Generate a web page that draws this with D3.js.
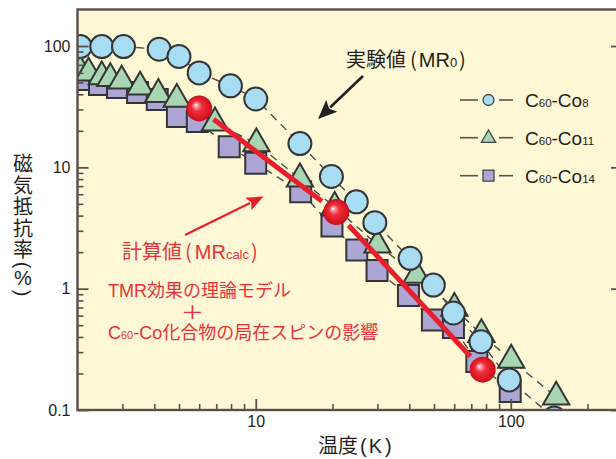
<!DOCTYPE html>
<html><head><meta charset="utf-8">
<script src="https://cdn.jsdelivr.net/npm/d3@7/dist/d3.min.js"></script>
<style>
html,body{margin:0;padding:0;background:#fff;overflow:hidden}
svg{display:block}
text{font-family:"Liberation Sans",Arial,"Noto Sans CJK JP",sans-serif}
</style></head><body>
<svg id="chart" width="616" height="459"></svg>
<script>
// ---- data (temperature K, magnetoresistance %) ----
const co8T   = [2.05, 2.49, 3.03, 4.18, 5.0, 6.0, 7.96, 10, 14.9, 19.8, 24.8, 29.3, 40.3, 49.7, 59.6, 76.4, 98.6, 148];
const co8MR  = [99, 99, 99, 94, 82, 60, 47, 36.6, 15.7, 8.4, 5.2, 3.5, 1.78, 1.07, 0.63, 0.365, 0.177, 0.086];
const co11T  = [2.05, 2.21, 2.49, 2.69, 2.98, 3.52, 4.15, 4.9, 6.92, 10.06, 14.9, 20.4, 30, 42.7, 60.1, 76.7, 100.4, 150.7];
const co11MR = [62, 60, 56, 54, 51.5, 46, 40, 36.4, 23.3, 15.7, 8.05, 4.7, 2.3, 1.29, 0.69, 0.42, 0.258, 0.128];
const co14T  = [2.04, 2.44, 2.87, 3.44, 4.11, 4.93, 5.9, 7.87, 10, 15, 19.9, 24.9, 29.9, 39.7, 49.3, 59.6, 73.6, 99.5];
const co14MR = [53, 48.2, 45.5, 41.4, 36.2, 26.2, 23.9, 14.8, 10.8, 6.3, 3.28, 2.08, 1.41, 0.877, 0.551, 0.478, 0.251, 0.142];
const calcT  = [6, 20.7, 77.6];
const calcMR = [30.6, 4.28, 0.215];

const yTickValues = [0.1, 1, 10, 100];
const yTickLabels = ["0.1", "1", "10", "100"];
const xTickValues = [10, 100];
const xTickLabels = ["10", "100"];
// legend labels: [main, sub, main, sub]
const legendLabels = [["C","60","-Co","8"],["C","60","-Co","11"],["C","60","-Co","14"]];
const yTitleChars = ["磁","気","抵","抗","率"];
const xTitle = ["温度","(","K",")"];

// ---- setup ----
const svg = d3.select("#chart");
const x = d3.scaleLog().domain([2, 273]).range([77.5, 622]);
const y = d3.scaleLog().domain([0.1, 200]).range([410, 9.5]);
const X0 = 77.5, X1 = 622, Y0 = 9.5, Y1 = 410;
const dark = "#231f20", red = "#e8323a", axisColor = "#5b4f4a";
const cjk = '"Noto Sans CJK JP",sans-serif';

const defs = svg.append("defs");
defs.append("clipPath").attr("id","plotClip").append("rect")
  .attr("x",X0).attr("y",Y0).attr("width",X1-X0).attr("height",Y1-Y0);
const grad = defs.append("radialGradient").attr("id","ball")
  .attr("cx","50%").attr("cy","50%").attr("r","50%").attr("fx","36%").attr("fy","36%");
[[0,"#ffffff"],[0.14,"#f9a0a6"],[0.4,"#ee2f3c"],[0.8,"#dc1724"],[1,"#c40f1c"]]
  .forEach(([o,c]) => grad.append("stop").attr("offset",o).attr("stop-color",c));

// background
svg.append("rect").attr("x",X0).attr("y",Y0).attr("width",X1-X0).attr("height",Y1-Y0)
  .attr("fill","#fef8d6");

const plot = svg.append("g").attr("clip-path","url(#plotClip)");

const series = [
  {T: co14T, MR: co14MR, type: "square",   fill: "#aba6d4"},
  {T: co11T, MR: co11MR, type: "triangle", fill: "#a9d6b2"},
  {T: co8T,  MR: co8MR,  type: "circle",   fill: "#a7dcf3"}
];
const symGen = {
  square: d3.symbol().type(d3.symbolSquare).size(441),
  triangle: d3.symbol().type(d3.symbolTriangle).size(300),
  squareS: d3.symbol().type(d3.symbolSquare).size(121),
  triangleS: d3.symbol().type(d3.symbolTriangle).size(88)
};

// dashed connecting lines
const line = d3.line().x(d => x(d[0])).y(d => y(d[1]));
series.forEach(s => {
  plot.append("path").datum(d3.zip(s.T, s.MR)).attr("d", line)
    .attr("fill","none").attr("stroke","#4a4a4a").attr("stroke-width",1.4)
    .attr("stroke-dasharray","8,6");
});
// markers
series.forEach(s => {
  const pts = d3.zip(s.T, s.MR);
  const g = plot.append("g");
  if (s.type === "circle") {
    g.selectAll("circle").data(pts).join("circle")
      .attr("cx", d => x(d[0])).attr("cy", d => y(d[1])).attr("r", 11.5)
      .attr("fill", s.fill).attr("stroke","#353535").attr("stroke-width",2);
  } else {
    g.selectAll("path").data(pts).join("path")
      .attr("transform", d => `translate(${x(d[0])},${y(d[1])})`)
      .attr("d", symGen[s.type])
      .attr("fill", s.fill).attr("stroke","#353535").attr("stroke-width",2)
      .attr("stroke-linejoin","miter");
  }
});

// calculated MR: red line + balls
const calc = d3.zip(calcT, calcMR);
for (let i = 0; i < calc.length - 1; i++) {
  const ax = x(calc[i][0]), ay = y(calc[i][1]), bx = x(calc[i+1][0]), by = y(calc[i+1][1]);
  const L = Math.hypot(bx-ax, by-ay), ux = (bx-ax)/L, uy = (by-ay)/L, sh = 18;
  plot.append("line").attr("x1", ax+ux*sh).attr("y1", ay+uy*sh)
    .attr("x2", bx-ux*sh).attr("y2", by-uy*sh)
    .attr("stroke", "#e8202e").attr("stroke-width", 5).attr("stroke-linecap","butt");
}
plot.selectAll("circle.ball").data(calc).join("circle").attr("class","ball")
  .attr("cx", d => x(d[0])).attr("cy", d => y(d[1])).attr("r", 13)
  .attr("fill","url(#ball)");

// ---- axes ----
function styleAxis(g, w) {
  g.select(".domain").remove();
  g.selectAll(".tick line").attr("stroke", axisColor).attr("stroke-width", w);
  g.selectAll(".tick text").attr("fill", dark).attr("font-size", 16)
    .attr("font-family", '"Liberation Sans",Arial,sans-serif');
}
const xMinor = x.ticks().filter(v => !xTickValues.includes(v) && v > 2.01);
const yMinor = y.ticks().filter(v => !yTickValues.includes(v) && v < 199);
svg.append("g").attr("transform",`translate(0,${Y1})`)
  .call(d3.axisBottom(x).tickValues(xMinor).tickFormat("").tickSize(-6)).call(g => styleAxis(g,1.6));
svg.append("g").attr("transform",`translate(0,${Y1})`)
  .call(d3.axisBottom(x).tickValues(xTickValues).tickFormat((d,i) => xTickLabels[i]).tickSize(-11).tickPadding(6))
  .call(g => styleAxis(g,1.8));
svg.append("g").attr("transform",`translate(${X0},0)`)
  .call(d3.axisLeft(y).tickValues(yMinor).tickFormat("").tickSize(-6)).call(g => styleAxis(g,1.6));
svg.append("g").attr("transform",`translate(${X0},0)`)
  .call(d3.axisLeft(y).tickValues(yTickValues).tickFormat((d,i) => yTickLabels[i]).tickSize(-11).tickPadding(7))
  .call(g => styleAxis(g,1.8));
svg.append("g").attr("transform",`translate(${X1},0)`)
  .call(d3.axisRight(y).tickValues(yTickValues).tickFormat("").tickSize(-11)).call(g => styleAxis(g,1.8));
svg.append("g").attr("transform",`translate(${X1},0)`)
  .call(d3.axisRight(y).tickValues(yMinor).tickFormat("").tickSize(-6)).call(g => styleAxis(g,1.4));
// frame
svg.append("rect").attr("x",X0).attr("y",Y0).attr("width",X1-X0).attr("height",Y1-Y0)
  .attr("fill","none").attr("stroke",axisColor).attr("stroke-width",2.4);

// axis titles
const xt = svg.append("text").attr("x",318).attr("y",453).attr("font-size",20).attr("fill",dark);
xt.append("tspan").text(xTitle[0]);
xt.append("tspan").attr("dx",2).text(xTitle[1]);
xt.append("tspan").attr("dx",2).text(xTitle[2]);
xt.append("tspan").attr("dx",3).text(xTitle[3]);

const yCenters = [164, 185.5, 207, 228.5, 250];
yTitleChars.forEach((c,i) => {
  svg.append("text").attr("x",23).attr("y",yCenters[i]).attr("text-anchor","middle")
    .attr("dominant-baseline","central").attr("font-size",20).attr("fill",dark).text(c);
});
svg.append("text").attr("x",23).attr("y",265).attr("text-anchor","middle")
  .attr("dominant-baseline","central").attr("font-size",20).attr("fill",dark)
  .attr("transform","rotate(90,23,265)").text("(");
svg.append("text").attr("x",23).attr("y",278).attr("text-anchor","middle")
  .attr("dominant-baseline","central").attr("font-size",20).attr("fill",dark).text("%");
svg.append("text").attr("x",23).attr("y",293).attr("text-anchor","middle")
  .attr("dominant-baseline","central").attr("font-size",20).attr("fill",dark)
  .attr("transform","rotate(90,23,293)").text(")");

// ---- legend ----
const legY = [100, 137.7, 175.7];
const legSym = ["circle","triangleS","squareS"];
const legFill = ["#a7dcf3","#a9d6b2","#aba6d4"];
legY.forEach((ly,i) => {
  const g = svg.append("g");
  g.append("line").attr("x1",460).attr("x2",478).attr("y1",ly).attr("y2",ly).attr("stroke","#555").attr("stroke-width",1.6);
  g.append("line").attr("x1",499).attr("x2",513).attr("y1",ly).attr("y2",ly).attr("stroke","#555").attr("stroke-width",1.6);
  if (legSym[i] === "circle") {
    g.append("circle").attr("cx",488.5).attr("cy",ly).attr("r",5.5).attr("fill",legFill[i]).attr("stroke","#444").attr("stroke-width",1.3);
  } else {
    g.append("path").attr("transform",`translate(488.5,${ly + (i===1?0.5:0)})`).attr("d",symGen[legSym[i]])
      .attr("fill",legFill[i]).attr("stroke","#444").attr("stroke-width",1.3);
  }
  const t = g.append("text").attr("x",525).attr("y",ly+7).attr("font-size",19).attr("fill",dark);
  legendLabels[i].forEach((p,j) => t.append("tspan").attr("font-size", j%2 ? 11.5 : 19).text(p));
});

// ---- annotations ----
function arrow(x1,y1,x2,y2,color,w,hl,hw) {
  const L = Math.hypot(x2-x1,y2-y1), ux=(x2-x1)/L, uy=(y2-y1)/L, px=-uy, py=ux;
  const bx = x2-ux*hl, by = y2-uy*hl;
  svg.append("line").attr("x1",x1).attr("y1",y1).attr("x2",bx+ux*2).attr("y2",by+uy*2)
    .attr("stroke",color).attr("stroke-width",w);
  const nx = x2-ux*hl*0.8, ny = y2-uy*hl*0.8;
  svg.append("path").attr("d",`M${x2},${y2}L${bx+px*hw/2},${by+py*hw/2}L${nx},${ny}L${bx-px*hw/2},${by-py*hw/2}Z`)
    .attr("fill",color);
}
arrow(363,76,318,119,"#231f20",2.6,19,16);
arrow(185,235,263.5,196.5,"#e8202e",2.2,17,14);

const t1 = svg.append("text").attr("x",346).attr("y",67).attr("font-size",20).attr("fill",dark);
t1.append("tspan").text("実験値");
t1.append("tspan").attr("dx",4).attr("font-family",cjk).text("(");
t1.append("tspan").attr("dx",2).text("MR");
t1.append("tspan").attr("font-size",13).text("0");
t1.append("tspan").attr("dx",2).attr("font-family",cjk).text(")");

const t2 = svg.append("text").attr("x",122).attr("y",259).attr("font-size",20).attr("fill",red);
t2.append("tspan").text("計算値");
t2.append("tspan").attr("dx",3).attr("font-family",cjk).text("(");
t2.append("tspan").attr("dx",3).text("MR");
t2.append("tspan").attr("font-size",13).text("calc");
t2.append("tspan").attr("dx",2).attr("font-family",cjk).text(")");

svg.append("text").attr("x",108).attr("y",297).attr("font-size",18).attr("fill",red).text("TMR効果の理論モデル");
svg.append("text").attr("transform","translate(192.5,313) scale(1.3,1)").attr("text-anchor","middle")
  .attr("dominant-baseline","central").attr("font-size",18).attr("fill",red)
  .attr("font-family",cjk).text("＋");
const t3 = svg.append("text").attr("x",108).attr("y",339).attr("font-size",18).attr("fill",red);
t3.append("tspan").text("C");
t3.append("tspan").attr("font-size",11).text("60");
t3.append("tspan").text("-Co化合物の局在スピンの影響");
</script>
</body></html>
